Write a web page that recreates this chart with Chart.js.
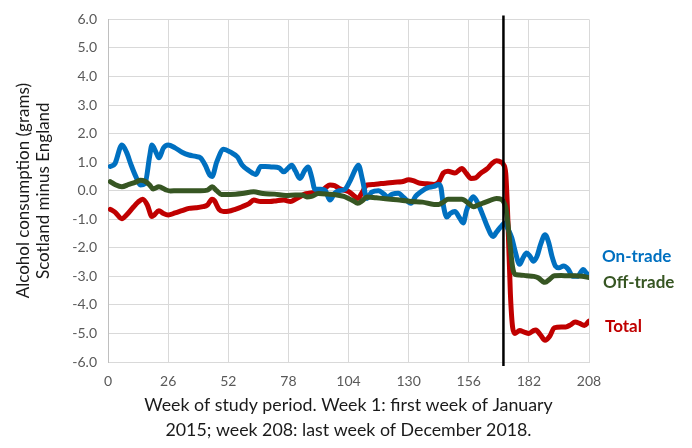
<!DOCTYPE html>
<html>
<head>
<meta charset="utf-8">
<script src="https://cdn.jsdelivr.net/npm/chart.js@4.4.1/dist/chart.umd.min.js"></script>
<style>
  html, body { margin: 0; padding: 0; background: #fff; }
  #wrap { width: 692px; height: 448px; position: relative; }
</style>
</head>
<body>
<div id="wrap"><canvas id="chart" width="692" height="448"></canvas></div>
<script>
// weeks of study period and the difference (Scotland minus England)
const onTradeWeeks = [1, 3, 6, 8, 10, 12, 14, 16, 18, 19, 21, 22, 24, 26, 29, 32, 35, 38, 40, 42, 44, 45, 47, 50, 53, 56, 58, 61, 64, 66, 68, 71, 74, 76, 78, 79.5, 81, 83, 85, 86.5, 88, 89.5, 92, 94, 96, 98, 100, 102.5, 105, 107, 108.3, 110, 112, 114, 117, 119, 121, 123, 125.5, 128, 131, 133, 135.5, 138, 141, 143, 144, 145, 146.5, 148, 150, 152, 153.6, 155, 157, 158, 160, 162, 164, 166.5, 168, 170, 171.5, 173, 174.6, 176, 178, 179.5, 181, 182.5, 184, 185.5, 187, 189, 190.5, 192, 193.5, 195, 197, 199, 201, 203, 205.5, 207, 208]
const onTradeValues = [0.85, 0.95, 1.6, 1.35, 0.9, 0.5, 0.2, 0.25, 1.2, 1.6, 1.3, 1.15, 1.5, 1.6, 1.5, 1.35, 1.25, 1.2, 1.15, 0.9, 0.55, 0.5, 1.0, 1.45, 1.35, 1.18, 0.9, 0.7, 0.57, 0.85, 0.85, 0.83, 0.8, 0.66, 0.8, 0.89, 0.7, 0.43, 0.7, 0.83, 0.5, 0.05, 0.05, 0.0, -0.33, -0.09, 0.0, 0.05, 0.4, 0.75, 0.89, 0.4, -0.27, -0.05, 0.0, -0.1, -0.21, -0.12, -0.09, -0.25, -0.44, -0.2, -0.03, 0.1, 0.15, 0.22, 0.1, -0.5, -0.92, -0.8, -0.73, -0.95, -1.13, -0.7, -0.3, -0.21, -0.45, -0.84, -1.25, -1.6, -1.45, -1.25, -1.13, -1.35, -1.65, -2.1, -2.58, -2.35, -2.18, -2.3, -2.47, -2.3, -1.9, -1.54, -1.8, -2.3, -2.64, -2.7, -2.64, -2.75, -3.0, -3.0, -2.76, -2.9, -2.93]

const offTradeWeeks = [1, 3, 6, 9, 12, 14, 16, 18, 19.5, 22, 25, 27, 30, 35, 40, 43, 45, 47, 49, 53, 58, 63, 67, 72, 77, 81, 84, 86, 88, 91, 95, 99, 102, 104, 106, 108, 110, 112, 116, 120, 125, 131, 136, 141, 143, 145, 147, 150, 153, 156, 158, 160, 162, 165, 168, 170, 171, 172, 173, 174, 175, 176, 178, 181, 184, 186, 188, 189, 191, 193, 196, 199, 202, 205, 208]
const offTradeValues = [0.32, 0.22, 0.14, 0.22, 0.3, 0.37, 0.33, 0.2, 0.06, 0.14, 0.03, -0.01, 0.0, 0.0, 0.0, 0.02, 0.14, 0.0, -0.13, -0.13, -0.1, -0.04, -0.1, -0.12, -0.17, -0.15, -0.15, -0.22, -0.2, -0.1, -0.12, -0.15, -0.2, -0.27, -0.35, -0.44, -0.35, -0.22, -0.25, -0.28, -0.32, -0.38, -0.4, -0.48, -0.48, -0.4, -0.3, -0.3, -0.3, -0.45, -0.56, -0.5, -0.44, -0.35, -0.27, -0.3, -0.38, -0.6, -1.2, -2.0, -2.7, -2.93, -2.95, -2.98, -3.0, -3.05, -3.18, -3.21, -3.1, -2.98, -2.97, -2.98, -2.98, -3.0, -3.04]

const totalWeeks = [1, 3, 6, 8, 11, 13, 15, 17, 19, 20, 22, 24, 26, 29, 32, 35, 38, 41, 43, 45, 46, 48, 50, 52, 55, 58, 61, 63, 66, 70, 73, 76, 79, 81, 83, 85, 87, 90, 92, 94, 96, 98, 100, 102, 104, 106, 108, 110, 112, 115, 118, 120, 124, 127, 130, 132, 135, 138, 141, 143, 145, 147, 150, 153, 155, 157, 159, 161, 164, 166, 168, 170, 171, 172, 173, 174, 175, 176, 178, 180, 182, 184, 185, 187, 189, 191, 193, 196, 198, 200, 202, 204, 206, 208]
const totalValues = [-0.65, -0.75, -0.98, -0.85, -0.57, -0.4, -0.3, -0.5, -0.9, -0.85, -0.7, -0.8, -0.85, -0.78, -0.7, -0.62, -0.6, -0.56, -0.5, -0.3, -0.35, -0.65, -0.73, -0.72, -0.65, -0.56, -0.45, -0.33, -0.38, -0.38, -0.35, -0.33, -0.38, -0.3, -0.21, -0.12, -0.09, -0.05, -0.02, 0.1, 0.2, 0.18, 0.08, 0.02, -0.03, -0.15, -0.27, -0.05, 0.2, 0.22, 0.25, 0.26, 0.3, 0.31, 0.38, 0.35, 0.26, 0.24, 0.22, 0.3, 0.62, 0.68, 0.62, 0.78, 0.6, 0.43, 0.45, 0.6, 0.77, 0.95, 1.05, 1.0, 0.92, 0.6, -1.2, -3.6, -4.8, -5.0, -4.9, -4.95, -5.0, -4.9, -4.88, -5.05, -5.24, -5.1, -4.8, -4.77, -4.77, -4.7, -4.6, -4.65, -4.72, -4.57]

// week the policy came in (vertical marker)
const policyWeek = 171

const seriesNames = ['On-trade', 'Off-trade', 'Total']
const seriesColors = ['#0070C0', '#375623', '#C00000']

const FONT = 'Lato, "Open Sans", sans-serif'

const toPoints = (weeks, values) => weeks.map((w, i) => ({ x: w, y: values[i] }))

// black vertical line at the policy week + end labels
const markerPlugin = {
  id: 'marker',
  afterDatasetsDraw(chart) {
    const { ctx, chartArea, scales } = chart
    const x = scales.x.getPixelForValue(policyWeek)
    ctx.save()
    ctx.strokeStyle = '#000'
    ctx.lineWidth = 2.5
    ctx.beginPath()
    ctx.moveTo(x, chartArea.top - 4)
    ctx.lineTo(x, chartArea.bottom + 4)
    ctx.stroke()

    // series names next to the line ends
    const labelY = [-2.3, -3.2, -4.75]
    const labelDx = [13, 14, 16]
    ctx.font = 'bold 17px ' + FONT
    ctx.textBaseline = 'middle'
    ctx.textAlign = 'left'
    seriesNames.forEach((name, i) => {
      ctx.fillStyle = seriesColors[i]
      ctx.fillText(name, chartArea.right + labelDx[i], scales.y.getPixelForValue(labelY[i]))
    })
    ctx.restore()
  },
}

const lineStyle = (i) => ({
  label: seriesNames[i],
  borderColor: seriesColors[i],
  backgroundColor: seriesColors[i],
  borderWidth: 5,
  pointRadius: 0,
  tension: 0.35,
  cubicInterpolationMode: 'monotone',
  borderCapStyle: 'round',
  borderJoinStyle: 'round',
  fill: false,
})

const ctx = document.getElementById('chart').getContext('2d')
new Chart(ctx, {
  type: 'line',
  data: {
    datasets: [
      // first dataset ends up on top
      { ...lineStyle(1), data: toPoints(offTradeWeeks, offTradeValues) },
      { ...lineStyle(0), data: toPoints(onTradeWeeks, onTradeValues) },
      { ...lineStyle(2), data: toPoints(totalWeeks, totalValues) },
    ],
  },
  options: {
    responsive: false,
    animation: false,
    events: [],
    layout: { padding: { top: 16, right: 103, bottom: 0, left: 0 } },
    plugins: {
      legend: { display: false },
      tooltip: { enabled: false },
    },
    scales: {
      x: {
        type: 'linear',
        min: 0,
        max: 208,
        afterFit: (scale) => { scale.height = 86 },
        afterBuildTicks: (scale) => {
          scale.ticks = [0, 26, 52, 78, 104, 130, 156, 182, 208].map(v => ({ value: v }))
        },
        grid: { color: '#d9d9d9', lineWidth: 1, drawTicks: false },
        border: { color: '#d9d9d9' },
        ticks: {
          padding: 11,
          color: '#595959',
          font: { family: FONT, size: 14 },
          maxRotation: 0,
        },
        title: {
          display: true,
          text: ['Week of study period. Week 1: first week of January', '2015; week 208: last week of December 2018.'],
          color: '#1a1a1a',
          font: { family: FONT, size: 17.8, lineHeight: 1.36 },
          padding: { top: 0, bottom: 6 },
        },
      },
      y: {
        min: -6,
        max: 6,
        afterFit: (scale) => { scale.width = 108 },
        grid: { color: '#d9d9d9', lineWidth: 1, drawTicks: false },
        border: { color: '#bfbfbf' },
        ticks: {
          stepSize: 1,
          padding: 11,
          color: '#595959',
          font: { family: FONT, size: 14 },
          callback: (v) => v.toFixed(1),
        },
        title: {
          display: true,
          text: ['Alcohol consumption (grams)', 'Scotland minus England'],
          color: '#1a1a1a',
          font: { family: FONT, size: 17, lineHeight: 1.2 },
          padding: { top: 13, bottom: 0 },
        },
      },
    },
  },
  plugins: [markerPlugin],
})
</script>
</body>
</html>
